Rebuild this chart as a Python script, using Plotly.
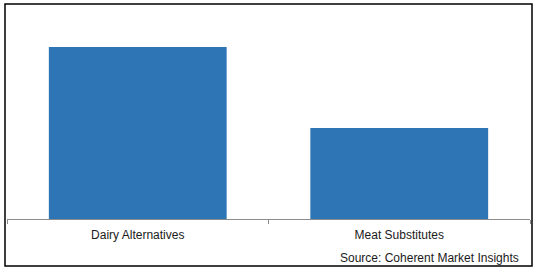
import plotly.graph_objects as go

categories = ["Dairy Alternatives", "Meat Substitutes"]
values = [65.4, 34.6]
source_text = "Source: Coherent Market Insights"

W, H = 538, 272
ml, mr, mt, mb = 7, 8, 10, 53
pw, ph = W - ml - mr, H - mt - mb

def px_x(x):
    return (x - ml) / pw

def px_y(y):
    return (H - mb - y) / ph

fig = go.Figure(go.Bar(x=categories, y=values, marker_color="#2E75B6",
                       marker_line_width=0))

fig.update_layout(
    width=W, height=H,
    margin=dict(l=ml, r=mr, t=mt, b=mb),
    paper_bgcolor="white", plot_bgcolor="white",
    bargap=0.32,
    showlegend=False,
    font=dict(family="Liberation Sans, Arial, sans-serif", size=12, color="#1a1a1a"),
    xaxis=dict(showline=True, linecolor="#8c8c8c", linewidth=1,
               ticks="outside", tickson="boundaries", ticklen=4,
               tickcolor="#8c8c8c", ticklabelstandoff=5,
               showgrid=False, zeroline=False),
    yaxis=dict(visible=False, range=[0, 79.5]),
    shapes=[dict(type="rect", xref="paper", yref="paper",
                 x0=px_x(5), x1=px_x(532), y0=px_y(266), y1=px_y(4),
                 line=dict(color="black", width=1.5), fillcolor="rgba(0,0,0,0)",
                 layer="above")],
    annotations=[dict(text=source_text, xref="paper", yref="paper",
                      x=px_x(521), y=px_y(258), xanchor="right", yanchor="middle",
                      showarrow=False, font=dict(size=12, color="#1a1a1a"))],
)

fig.write_html("out.html")
